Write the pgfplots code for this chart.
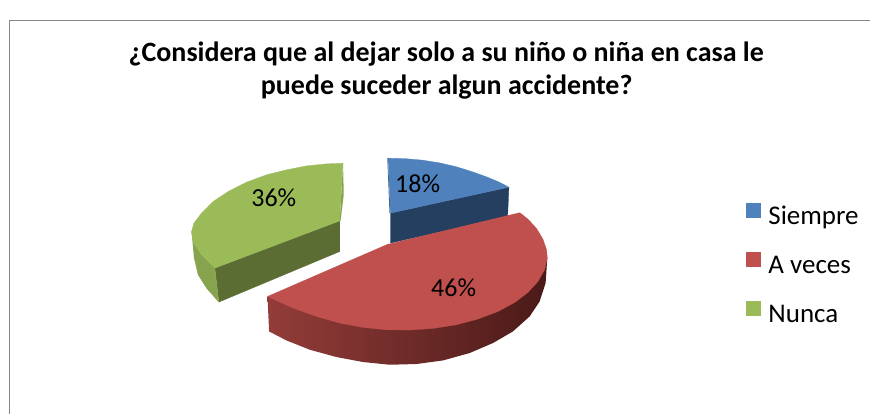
\documentclass[border=0pt]{standalone}
\usepackage{pgfplots}
\pgfplotsset{compat=1.18}
\usepackage{fontspec}
\setmainfont{Carlito}
\definecolor{cblue}{HTML}{4F81BD}
\definecolor{cbluedark}{HTML}{243F60}
\definecolor{cblueedge}{HTML}{3D6491}
\definecolor{cred}{HTML}{C0504D}
\definecolor{credl}{HTML}{933C39}
\definecolor{credm}{HTML}{6D2A28}
\definecolor{credd}{HTML}{4A1A18}
\definecolor{cgreen}{HTML}{9BBB59}
\definecolor{cgreendark}{HTML}{5B6D33}
\definecolor{cgreenside}{HTML}{87A34E}
\definecolor{frame}{HTML}{868686}
\begin{document}
\begin{tikzpicture}
\begin{axis}[
  scale only axis, width=871pt, height=414pt,
  xmin=0, xmax=871, ymin=0, ymax=414, y dir=reverse,
  hide axis, clip=false,
  legend style={at={(rel axis cs:0.8576,0.510)}, anchor=north west, draw=none, fill=none,
    font=\fontsize{27}{27}\selectfont, row sep=26pt, inner sep=0pt, outer sep=0pt,
    nodes={inner sep=0pt, outer sep=0pt}},
  legend cell align=left,
  legend image code/.code={\fill[draw=none,#1] (0pt,-1.5pt) rectangle (15pt,13.5pt); \path[draw=none,fill=none] (0pt,0pt) -- (22pt,0pt);},
]
\path (axis cs:0,0) rectangle (axis cs:871,414);
% frame
\addplot[frame, line width=1.3pt, forget plot] coordinates {(9.3,414) (9.3,20.5) (871,20.5)};
% blue
\addplot[fill=cbluedark, draw=cbluedark, line width=0.3pt, forget plot] coordinates {
 (390.7,213.3) (509.3,187.3) (508,216.7) (390.7,243.3)};
\addplot[fill=cblueedge, draw=none, forget plot] coordinates {
 (388.3,158.3) (390.7,213.3) (389.8,213.3) (387.6,158.3)};
\addplot[fill=cblue, draw=cblue, line width=0.3pt, forget plot] coordinates {
 (388.3,158.3) (405,158.7) (423,160.3) (440,163) (457,167) (473,172) (487,177) (499,182) (509.3,187.3) (390.7,213.3)};
% green
\addplot[fill=cgreendark, draw=cgreendark, line width=0.3pt, forget plot] coordinates {
 (215,268.3) (340,221) (340,251.7) (219,302.3)};
\addplot[fill=cgreenside, draw=cgreenside, line width=0.3pt, forget plot] coordinates {
 (191.7,231.7) (194,243.3) (201.7,255) (215,268.3) (219,302.3) (206.7,288.3) (198.3,275) (194,256.7)};
\addplot[fill=cgreenside, draw=none, forget plot] coordinates {
 (343.3,163.3) (344,195) (340.8,221) (340,221)};
\addplot[fill=cgreen, draw=cgreen, line width=0.3pt, forget plot] coordinates {
 (343.3,163.3) (326.7,164) (306.7,166) (286.7,170) (266.7,175) (246.7,182.3) (228.3,191.7) (213.3,201.7) (201.7,213.3) (194,223.3) (191.7,231.7) (194,243.3) (201.7,255) (215,268.3) (340,221)};
% red
\addplot[left color=credl, middle color=credm, right color=credd, draw=none, forget plot] coordinates {
 (267.7,297) (269.3,331.7) (286.7,340.7) (310,350) (336.7,357.3) (363.3,362.3) (390,365) (416.7,364.3) (443.3,360.7) (470,353.3) (493.3,343.3) (513.3,331.7) (530,316.7) (540,301.7) (546,283.3) (547.7,258.3) (530,258.3) (400,300)};
\addplot[fill=cred, draw=cred, line width=0.3pt, forget plot] coordinates {
 (520,212.7) (528.3,219.3) (536.7,228.3) (543.3,239.3) (547,250) (547.7,258.3) (545,270) (538.3,281.7) (528.3,292.7) (515,302.7) (498.3,311.7) (478.3,319.3) (456.7,325) (433.3,328.7) (410,330.3) (386.7,330) (363.3,327.7) (340,323.3) (316.7,316.7) (293.3,308.3) (267.7,296.7) (388.3,244.3)};
% legend
\addlegendimage{fill=cblue}
\addlegendentry{Siempre}
\addlegendimage{fill=cred}
\addlegendentry{A veces}
\addlegendimage{fill=cgreen}
\addlegendentry{Nunca}
% text
\node[font=\fontsize{26}{26}\selectfont] at (axis cs:418,184) {18\%};
\node[font=\fontsize{26}{26}\selectfont] at (axis cs:274,198) {36\%};
\node[font=\fontsize{26}{26}\selectfont] at (axis cs:454,288) {46\%};
\node[font=\fontsize{28}{28}\selectfont\bfseries, anchor=base] at (axis cs:446.5,62) {¿Considera que al dejar solo a su niño o niña en casa le};
\node[font=\fontsize{28}{28}\selectfont\bfseries, anchor=base] at (axis cs:447,95) {puede suceder algun accidente?};
\end{axis}
\end{tikzpicture}
\end{document}
